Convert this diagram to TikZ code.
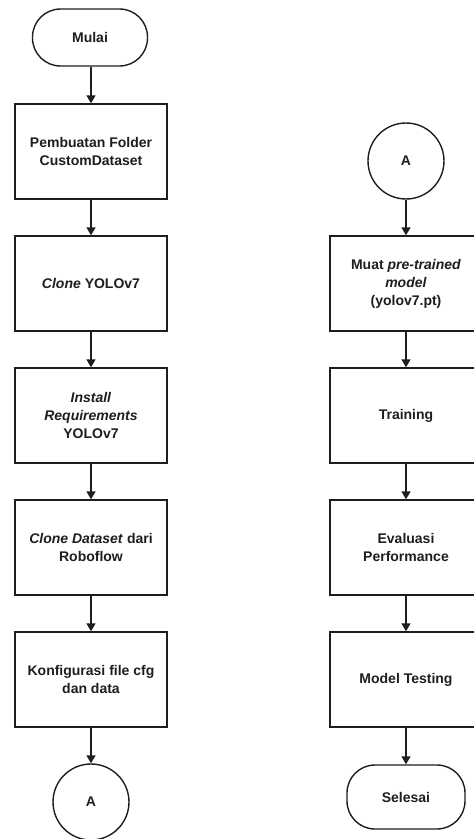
\documentclass[tikz,border=0pt]{standalone}
\usepackage{fontspec}
\setmainfont{Liberation Sans}
\usetikzlibrary{arrows.meta}
\definecolor{ink}{HTML}{1E1E1E}
\tikzset{
  every node/.style={font=\fontsize{14}{18}\selectfont\bfseries, text=ink, align=center},
  procbox/.style={draw=ink, line width=1.4pt, rectangle, minimum width=152pt, minimum height=95pt, inner sep=0pt},
  terminal/.style={draw=ink, line width=1.4pt, rectangle, rounded corners=28pt, inner sep=0pt},
  connector/.style={draw=ink, line width=1.4pt, circle, minimum size=76pt, inner sep=0pt},
  flow/.style={draw=ink, line width=1.4pt, -{Triangle[length=8pt,width=9pt]}}
}
\begin{document}
\begin{tikzpicture}[x=1pt, y=-1pt]
\useasboundingbox (0,0) rectangle (474,839);
\fill[white] (0,0) rectangle (474,839);
\clip (0,0) rectangle (474,839);

% left column
\node[terminal, minimum width=115pt, minimum height=57pt] (mulai) at (90,37.5) {Mulai};
\node[procbox] (folder) at (91,151.5) {Pembuatan Folder\\CustomDataset};
\node[procbox] (clone) at (91,283.5) {\textit{Clone} YOLOv7};
\node[procbox] (install) at (91,415.5) {\textit{Install}\\\textit{Requirements}\\YOLOv7};
\node[procbox] (dataset) at (91,547.5) {\textit{Clone Dataset} dari\\Roboflow};
\node[procbox] (konfig) at (91,679.5) {Konfigurasi file cfg\\dan data};
\node[connector] (offA) at (91,802) {A};

% right column
\node[connector] (onA) at (406,161) {A};
\node[procbox] (muat) at (406,283.5) {Muat \textit{pre-trained}\\\textit{model}\\(yolov7.pt)};
\node[procbox] (train) at (406,415.5) {Training};
\node[procbox] (eval) at (406,547.5) {Evaluasi\\Performance};
\node[procbox] (test) at (406,679.5) {Model Testing};
\node[terminal, minimum width=118pt, minimum height=64pt] (selesai) at (406,797) {Selesai};

% flow connectors
\draw[flow] (mulai.south -| folder.north) -- (folder.north);
\draw[flow] (folder) -- (clone);
\draw[flow] (clone) -- (install);
\draw[flow] (install) -- (dataset);
\draw[flow] (dataset) -- (konfig);
\draw[flow] (konfig) -- (offA);

\draw[flow] (onA) -- (muat);
\draw[flow] (muat) -- (train);
\draw[flow] (train) -- (eval);
\draw[flow] (eval) -- (test);
\draw[flow] (test) -- (selesai);
\end{tikzpicture}
\end{document}
